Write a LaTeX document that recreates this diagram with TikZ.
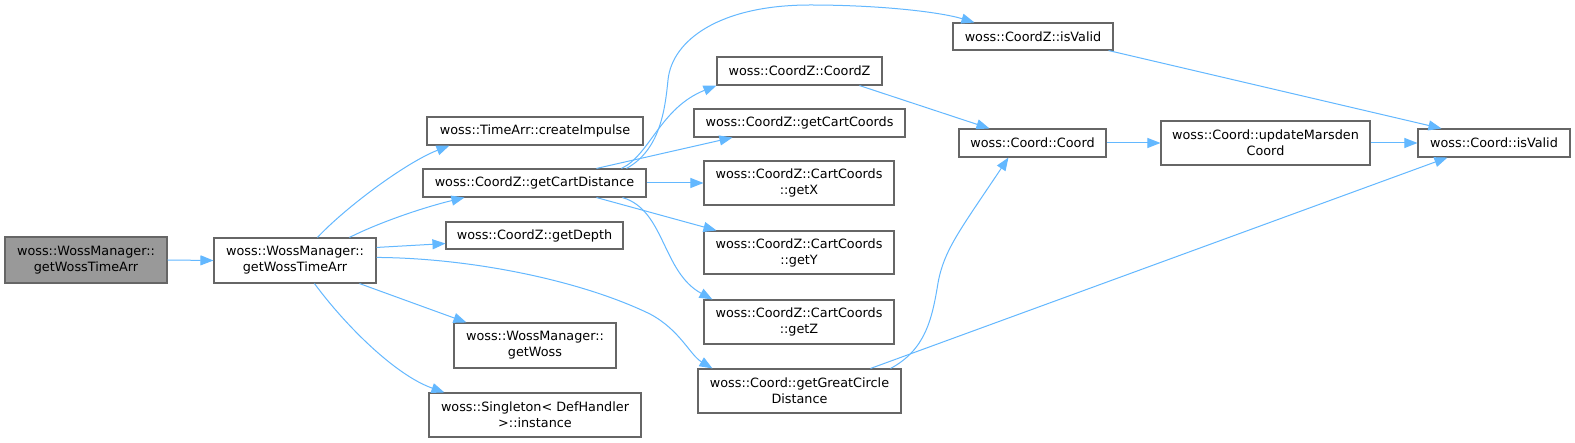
\documentclass[tikz,border=0pt]{standalone}
\usepackage{fontspec}
\setmainfont{DejaVu Sans}
\usetikzlibrary{arrows.meta,calc}
\definecolor{edgeblue}{HTML}{63B8FF}
\definecolor{boxgray}{HTML}{666666}
\definecolor{rootfill}{HTML}{999999}
\begin{document}
\begin{tikzpicture}[x=1pt,y=-1pt,
  fn/.style={draw=boxgray,line width=1.1pt,fill=white,inner sep=0pt,align=center,
    font=\fontsize{12.8}{16}\selectfont},
  rootfn/.style={fn,fill=rootfill},
  call/.style={draw=edgeblue,line width=1pt,-{Triangle[length=13pt,width=10pt]}}]
\useasboundingbox[fill=white] (0,0) rectangle (1575,443);
% nodes
\node[rootfn,minimum width=162pt,minimum height=46pt] (src) at (86,260) {woss::WossManager::\\getWossTimeArr};
\node[fn,minimum width=162pt,minimum height=45pt] (main) at (295,260.5) {woss::WossManager::\\getWossTimeArr};
\node[fn,minimum width=216pt,minimum height=28pt] (imp) at (535,131) {woss::TimeArr::createImpulse};
\node[fn,minimum width=223pt,minimum height=28pt] (gcd) at (534.5,183) {woss::CoordZ::getCartDistance};
\node[fn,minimum width=177pt,minimum height=27pt] (dep) at (534.5,235.5) {woss::CoordZ::getDepth};
\node[fn,minimum width=162pt,minimum height=45pt] (gw) at (535,345.5) {woss::WossManager::\\getWoss};
\node[fn,minimum width=212pt,minimum height=44pt] (sing) at (535,415) {woss::Singleton< DefHandler\\>::instance};
\node[fn,minimum width=160pt,minimum height=27pt] (czv) at (1033,36.5) {woss::CoordZ::isValid};
\node[fn,minimum width=165pt,minimum height=28pt] (cz) at (799.5,71) {woss::CoordZ::CoordZ};
\node[fn,minimum width=211pt,minimum height=28pt] (gcc) at (799.5,123) {woss::CoordZ::getCartCoords};
\node[fn,minimum width=190pt,minimum height=44pt] (gx) at (799,183) {woss::CoordZ::CartCoords\\::getX};
\node[fn,minimum width=190pt,minimum height=43pt] (gy) at (799,252.5) {woss::CoordZ::CartCoords\\::getY};
\node[fn,minimum width=190pt,minimum height=44pt] (gz) at (799,322) {woss::CoordZ::CartCoords\\::getZ};
\node[fn,minimum width=203pt,minimum height=44pt] (ggc) at (799.5,391) {woss::Coord::getGreatCircle\\Distance};
\node[fn,minimum width=147pt,minimum height=28pt] (co) at (1032.5,143) {woss::Coord::Coord};
\node[fn,minimum width=209pt,minimum height=44pt] (um) at (1265.5,143) {woss::Coord::updateMarsden\\Coord};
\node[fn,minimum width=152pt,minimum height=28pt] (cv) at (1494,143) {woss::Coord::isValid};
% edges
\draw[call] (src.east) -- (main.west);
\draw[call] ($(main.north west)+(104,0)$) .. controls (345,208) and (405,163) .. ($(imp.south west)+(23,0)$);
\draw[call] ($(main.north west)+(136,0)$) .. controls (380,222) and (425,207) .. ($(gcd.south west)+(42,0)$);
\draw[call] ($(main.north east)+(0,10)$) -- ($(dep.south west)+(0,-6)$);
\draw[call] ($(main.north east)+(0,20)$) .. controls (470,258) and (580,280) .. (650,314) .. controls (680,330) and (690,355) .. ($(ggc.north west)+(15,0)$);
\draw[call] ($(main.south west)+(146,0)$) -- ($(gw.north west)+(13,0)$);
\draw[call] ($(main.south west)+(101,0)$) .. controls (345,325) and (395,375) .. ($(sing.north west)+(16,0)$);
\draw[call] ($(gcd.north west)+(204,0)$) .. controls (660,150) and (665,110) .. (668,80) .. controls (672,40) and (720,5) .. (810,5) .. controls (880,5) and (940,12) .. ($(czv.north west)+(22,0)$);
\draw[call] ($(gcd.north west)+(199,0)$) .. controls (650,155) and (660,108) .. (cz.south west);
\draw[call] ($(gcd.north west)+(174,0)$) -- ($(gcc.south west)+(39,0)$);
\draw[call] (gcd.east) -- (gx.west);
\draw[call] ($(gcd.south west)+(174,0)$) -- ($(gy.north west)+(13,0)$);
\draw[call] ($(gcd.south west)+(200,0)$) .. controls (665,210) and (662,272) .. ($(gz.north west)+(9,0)$);
\draw[call] ($(cz.south west)+(143,0)$) -- ($(co.north west)+(31,0)$);
\draw[call] (co.east) -- (um.west);
\draw[call] (um.east) -- (cv.west);
\draw[call] ($(czv.south east)+(-5,0)$) -- ($(cv.north west)+(24,0)$);
\draw[call] ($(ggc.north east)+(-11,0)$) .. controls (925,350) and (932,320) .. (938,283) .. controls (944,250) and (960,230) .. ($(co.south west)+(50,0)$);
\draw[call] ($(ggc.north east)+(-31,0)$) -- ($(cv.south west)+(30,0)$);
\end{tikzpicture}
\end{document}
